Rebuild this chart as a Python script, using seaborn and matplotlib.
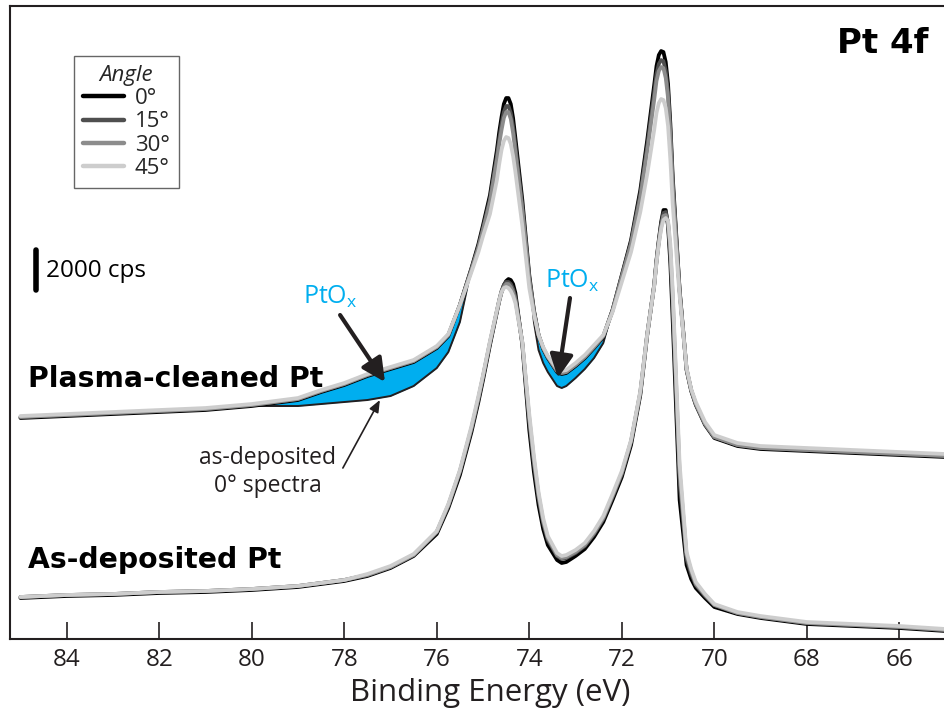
import matplotlib
matplotlib.use("Agg")
import matplotlib.pyplot as plt
from matplotlib.lines import Line2D
import numpy as np
import pandas as pd
import seaborn as sns

# ---------------- data (binding energy in eV, intensity in cps) ----------------
energy = [85.0, 84.0, 83.0, 82.0, 81.0, 80.0,
          79.0, 78.5, 78.0, 77.5, 77.0, 76.5, 76.0, 75.75,
          75.5, 75.25, 75.1, 75.0, 74.85,
          74.7, 74.65, 74.6, 74.55, 74.5, 74.45, 74.4, 74.35, 74.3,
          74.15, 74.0, 73.9, 73.8, 73.7, 73.6,
          73.4, 73.3, 73.2, 73.0, 72.8, 72.6, 72.4, 72.2, 72.0,
          71.8, 71.6, 71.45, 71.3, 71.25, 71.2, 71.15, 71.1, 71.05, 71.0, 70.95, 70.9,
          70.75, 70.6, 70.5, 70.4, 70.2, 70.0,
          69.5, 69.0, 68.0, 67.0, 66.0, 65.0, 64.5]

plasma_0 = [11100, 11200, 11300, 11400, 11500, 11700,
            12000, 12400, 12750, 13200, 13550, 13900, 14600, 15200,
            16750, 18600, 19800, 20750, 22250,
            24500, 25400, 26150, 26800, 27100, 27100, 26800, 26100, 25100,
            22000, 18250, 16500, 15250, 14550, 14100,
            13400, 13300, 13350, 13700, 14100, 14600, 15150, 16500, 18250,
            20000, 22500, 25000, 27750, 28700, 29250, 29450, 29400, 28900, 27800, 25800, 23200,
            17500, 13500, 12450, 11750, 10750, 10100,
            9700, 9550, 9450, 9350, 9250, 9150, 9100]
plasma_15 = [11150, 11250, 11350, 11450, 11550, 11750,
             12050, 12450, 12800, 13250, 13600, 13950, 14650, 15250,
             16750, 18550, 19700, 20600, 22050,
             24200, 25050, 25800, 26400, 26700, 26700, 26350, 25650, 24700,
             21700, 18100, 16450, 15250, 14600, 14150,
             13450, 13350, 13400, 13750, 14150, 14650, 15200, 16500, 18200,
             19900, 22300, 24700, 27350, 28300, 28800, 29000, 28950, 28450, 27400, 25450, 22900,
             17500, 13550, 12500, 11800, 10800, 10150,
             9750, 9600, 9500, 9400, 9300, 9200, 9150]
plasma_30 = [11150, 11250, 11350, 11450, 11550, 11750,
             12050, 12450, 12800, 13250, 13600, 13950, 14650, 15250,
             16750, 18500, 19600, 20500, 21900,
             24000, 24800, 25500, 26100, 26400, 26400, 26050, 25350, 24400,
             21500, 18000, 16400, 15250, 14600, 14150,
             13450, 13350, 13400, 13750, 14150, 14650, 15200, 16450, 18150,
             19800, 22100, 24450, 27000, 27950, 28450, 28650, 28600, 28100, 27100, 25200, 22700,
             17400, 13550, 12500, 11800, 10800, 10150,
             9750, 9600, 9500, 9400, 9300, 9200, 9150]
plasma_45 = [11200, 11300, 11400, 11500, 11600, 11800,
             12100, 12500, 12850, 13300, 13650, 14000, 14700, 15300,
             16750, 18400, 19400, 20200, 21300,
             23000, 23800, 24500, 24950, 25150, 25100, 24800, 24200, 23400,
             20700, 17600, 16300, 15250, 14650, 14200,
             13550, 13450, 13500, 13850, 14250, 14750, 15250, 16400, 17900,
             19400, 21400, 23300, 25500, 26350, 26850, 27050, 27000, 26600, 25700, 24000, 21800,
             17200, 13600, 12550, 11900, 10900, 10250,
             9850, 9700, 9600, 9500, 9400, 9300, 9250]

asdep_0 = [2100, 2200, 2250, 2350, 2400, 2500,
           2650, 2800, 2950, 3200, 3600, 4200, 5300, 6600,
           8250, 10400, 11900, 13000, 14750,
           16400, 16950, 17400, 17750, 17950, 18050, 18000, 17800, 17350,
           14750, 10500, 8400, 6750, 5550, 4750,
           4000, 3850, 3900, 4200, 4550, 5150, 5900, 7000, 8150,
           9750, 12250, 15250, 17750, 19000, 20000, 20900, 21500, 21500, 20700, 18800, 16000,
           7000, 3750, 3050, 2600, 2100, 1650,
           1300, 1100, 800, 700, 600, 450, 400]
asdep_15 = [2150, 2250, 2300, 2400, 2450, 2550,
            2700, 2850, 3000, 3250, 3650, 4250, 5400, 6700,
            8400, 10550, 12050, 13150, 14850,
            16450, 17000, 17450, 17750, 17900, 17900, 17800, 17550, 17150,
            14850, 10900, 8800, 7100, 5850, 5000,
            4200, 4050, 4100, 4350, 4700, 5300, 6050, 7150, 8300,
            9900, 12350, 15300, 17750, 18950, 19950, 20800, 21350, 21400, 20850, 19200, 16800,
            7900, 4050, 3300, 2750, 2200, 1750,
            1350, 1150, 850, 750, 650, 500, 450]
asdep_30 = [2150, 2250, 2300, 2400, 2450, 2550,
            2700, 2850, 3000, 3250, 3650, 4250, 5400, 6750,
            8450, 10600, 12100, 13200, 14900,
            16450, 16950, 17400, 17650, 17800, 17800, 17650, 17400, 17000,
            14850, 11100, 9000, 7250, 5950, 5100,
            4250, 4100, 4150, 4400, 4750, 5350, 6100, 7200, 8350,
            9950, 12400, 15300, 17700, 18900, 19850, 20650, 21200, 21250, 20900, 19500, 17200,
            8400, 4250, 3450, 2800, 2250, 1750,
            1350, 1150, 850, 750, 650, 500, 450]
asdep_45 = [2150, 2250, 2300, 2400, 2450, 2550,
            2700, 2850, 3000, 3300, 3700, 4300, 5450, 6800,
            8500, 10700, 12200, 13250, 14950,
            16500, 17000, 17400, 17600, 17650, 17600, 17450, 17200, 16850,
            14900, 11300, 9200, 7400, 6100, 5200,
            4350, 4200, 4250, 4500, 4850, 5450, 6200, 7300, 8450,
            10000, 12450, 15300, 17700, 18850, 19800, 20550, 21000, 21100, 20950, 19800, 17500,
            8800, 4400, 3550, 2900, 2300, 1800,
            1400, 1200, 900, 800, 700, 550, 500]

# as-deposited 0 deg spectrum overlaid on the plasma-cleaned spectra (lower edge of the PtOx areas)
overlay1_energy = [80.0, 79.0, 78.5, 78.0, 77.5, 77.0, 76.5, 76.0, 75.75, 75.5, 75.25]
overlay1 = [11700, 11700, 11800, 11900, 12000, 12200, 12700, 13600, 14400, 15900, 18600]
overlay2_energy = [74.0, 73.9, 73.8, 73.7, 73.6, 73.4, 73.3, 73.2, 73.0, 72.8, 72.6, 72.4, 72.2]
overlay2 = [18250, 15900, 14500, 13850, 13400, 12700, 12600, 12700, 13100, 13550, 14100, 14850, 16500]

angles = ["0°", "15°", "30°", "45°"]
angle_colors = ["#000000", "#4f4f4f", "#8c8c8c", "#cdcdcd"]
xticks = [84, 82, 80, 78, 76, 74, 72, 70, 68, 66]

# ---------------- long table ----------------
rows = []
for sample, series in [("Plasma-cleaned", [plasma_0, plasma_15, plasma_30, plasma_45]),
                       ("As-deposited", [asdep_0, asdep_15, asdep_30, asdep_45])]:
    for ang, vals in zip(angles, series):
        for e, v in zip(energy, vals):
            rows.append({"energy": e, "intensity": v, "angle": ang, "sample": sample})
df = pd.DataFrame(rows)

sns.set_theme(style="white")
plt.rcParams["font.family"] = ["Open Sans", "DejaVu Sans"]
plt.rcParams["mathtext.fontset"] = "custom"
plt.rcParams["mathtext.rm"] = "Open Sans"
plt.rcParams["mathtext.it"] = "Open Sans:italic"

fig = plt.figure(figsize=(9.45, 7.09), dpi=100)
ax = fig.add_axes([0.01058, 0.0983, 1.0159, 0.8932])

ink = "#231f20"
blue = "#00aeef"

# PtOx areas
p0 = dict(zip(energy, plasma_0))
ax.fill_between(overlay1_energy, overlay1, [p0[e] for e in overlay1_energy],
                color=blue, lw=0, zorder=1)
ax.fill_between(overlay2_energy, overlay2, [p0[e] for e in overlay2_energy],
                color=blue, lw=0, zorder=1)
ax.plot(overlay1_energy, overlay1, color=ink, lw=1.4, zorder=1.5)
ax.plot(overlay2_energy, overlay2, color=ink, lw=1.4, zorder=1.5)

for sample in ["As-deposited", "Plasma-cleaned"]:
    sns.lineplot(data=df[df["sample"] == sample], x="energy", y="intensity", hue="angle",
                 hue_order=angles, palette=angle_colors, estimator=None, sort=False,
                 lw=2.7, legend=False, ax=ax, zorder=2)
for line in ax.get_lines():
    line.set_solid_joinstyle("round")

ax.set_xlim(85.226, 64.472)
ax.set_ylim(35, 31700)
ax.set_xticks(xticks)
ax.set_xticklabels([str(t) for t in xticks])
ax.set_yticks([])
ax.set_ylabel("")
ax.set_xlabel("Binding Energy (eV)", fontsize=22.5, color=ink)
ax.xaxis.set_label_coords(0.5, -0.061)
ax.tick_params(axis="x", direction="in", length=12, width=1.2, colors=ink,
               labelsize=17.5, pad=6, bottom=True, top=False)
for side in ["left", "top", "bottom"]:
    ax.spines[side].set_color(ink)
    ax.spines[side].set_linewidth(1.5)
ax.spines["right"].set_visible(False)

# legend
handles = [Line2D([0], [0], color=c, lw=3.2) for c in angle_colors]
leg = ax.legend(handles, angles, title="Angle", loc="upper left",
                bbox_to_anchor=(0.0663, 0.921), fontsize=16, title_fontsize=16,
                frameon=True, fancybox=False, edgecolor="#666666", framealpha=1,
                handlelength=1.85, handletextpad=0.5, labelspacing=0.1,
                borderpad=0.4, borderaxespad=0)
leg.get_title().set_fontstyle("italic")
leg.get_frame().set_linewidth(1.0)

# labels
ax.text(84.84, 13050, "Plasma-cleaned Pt", fontsize=20.3, fontweight="bold",
        family="DejaVu Sans", color="black", ha="left", va="center")
ax.text(84.84, 4000, "As-deposited Pt", fontsize=20.3, fontweight="bold",
        family="DejaVu Sans", color="black", ha="left", va="center")
ax.text(65.37, 29850, "Pt 4f", fontsize=24.5, fontweight="bold",
        family="DejaVu Sans", color="black", ha="right", va="center")

# scale bar
ax.plot([84.66, 84.66], [17500, 19500], color="black", lw=4, solid_capstyle="round")
ax.text(84.45, 18450, "2000 cps", fontsize=17.5, color="black", ha="left", va="center")

# PtOx annotations
ax.text(78.89, 17150, r"PtO$_\mathrm{x}$", fontsize=18, color=blue, ha="left", va="center")
ax.text(73.66, 17950, r"PtO$_\mathrm{x}$", fontsize=18, color=blue, ha="left", va="center")
thick = dict(arrowstyle="-|>,head_length=0.7,head_width=0.35", lw=3, color=ink,
             mutation_scale=20, shrinkA=0, shrinkB=0)
ax.annotate("", xy=(77.12, 12900), xytext=(78.09, 16250), arrowprops=thick, zorder=5)
ax.annotate("", xy=(73.38, 13100), xytext=(73.12, 17100), arrowprops=thick, zorder=5)

thin = dict(arrowstyle="-|>,head_length=0.6,head_width=0.25", lw=1.2, color=ink,
            mutation_scale=12, shrinkA=0, shrinkB=0)
ax.annotate("", xy=(77.23, 12000), xytext=(78.03, 8600), arrowprops=thin, zorder=5)
ax.text(79.65, 8400, "as-deposited\n0° spectra", fontsize=16.5, color=ink,
        ha="center", va="center", multialignment="center", linespacing=1.25)

fig.savefig("out.png", dpi=100)
